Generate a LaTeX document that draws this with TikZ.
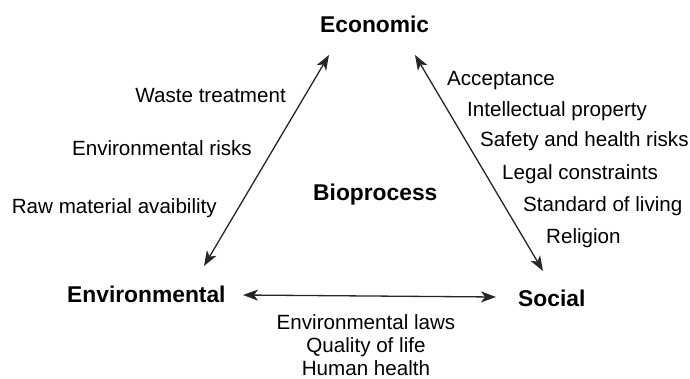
\documentclass[tikz,border=0pt]{standalone}
\usepackage{fontspec}
\setmainfont{Liberation Sans}
\usetikzlibrary{arrows.meta}
\begin{document}
\begin{tikzpicture}[x=1pt,y=-1pt,
  pillar/.style={font=\fontsize{22.8}{26}\selectfont\bfseries, inner sep=0pt, anchor=base west},
  item/.style={font=\fontsize{20.6}{24}\selectfont, inner sep=0pt},
  link/.style={line width=1.3pt, color=black!85, {Stealth[length=15pt,width=11pt,inset=4pt]}-{Stealth[length=15pt,width=11pt,inset=4pt]}}]
\useasboundingbox (0,0) rectangle (690,378);
% the three pillars and the centre
\node[pillar] (eco) at (320,32) {Economic};
\node[pillar] (env) at (67,302) {Environmental};
\node[pillar] (soc) at (518,306) {Social};
\node[pillar] (bio) at (313,200) {Bioprocess};
% links between the pillars
\coordinate (l1) at (204,266); \coordinate (l2) at (329,55);
\coordinate (r1) at (415,55);  \coordinate (r2) at (543,271);
\coordinate (b1) at (243,295); \coordinate (b2) at (496,297);
\draw[link] (l1) -- (l2);
\draw[link] (r1) -- (r2);
\draw[link] (b1) -- (b2);
% environmental -- economic
\node[item, anchor=base east] (w1) at (286,102) {Waste treatment};
\node[item, anchor=base east] (w2) at (252,155) {Environmental risks};
\node[item, anchor=base east] (w3) at (217,213) {Raw material avaibility};
% economic -- social
\node[item, anchor=base west] (s1) at (447,85) {Acceptance};
\node[item, anchor=base west] (s2) at (467,116) {Intellectual property};
\node[item, anchor=base west] (s3) at (480,146) {Safety and health risks};
\node[item, anchor=base west] (s4) at (502,179) {Legal constraints};
\node[item, anchor=base west] (s5) at (523,211) {Standard of living};
\node[item, anchor=base west] (s6) at (546,243) {Religion};
% environmental -- social
\node[item, anchor=base] (e1) at (366,329) {Environmental laws};
\node[item, anchor=base] (e2) at (366,352) {Quality of life};
\node[item, anchor=base] (e3) at (366,375) {Human health};
\end{tikzpicture}
\end{document}
